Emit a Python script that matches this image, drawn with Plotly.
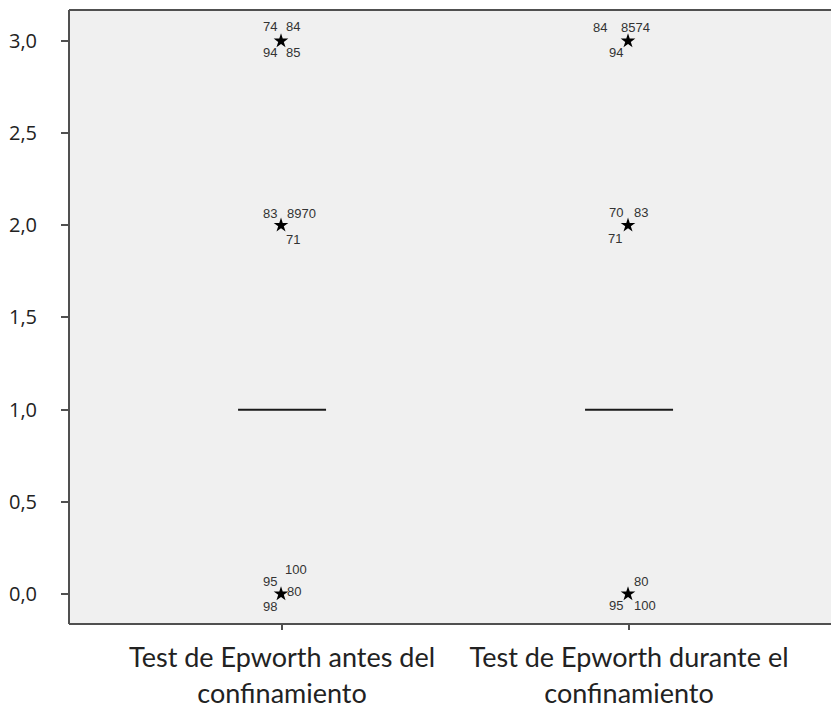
import plotly.graph_objects as go

categories = ["Test de Epworth antes del<br>confinamiento", "Test de Epworth durante el<br>confinamiento"]
cat_pos = [0, 1]
medians = [1.0, 1.0]
q1 = [1.0, 1.0]
q3 = [1.0, 1.0]
lower = [1.0, 1.0]
upper = [1.0, 1.0]

out_values_g1 = [3, 2, 0]
out_labels_g1 = [["74", "84", "94", "85"], ["83", "8970", "71"], ["100", "95", "80", "98"]]
out_values_g2 = [3, 2, 0]
out_labels_g2 = [["84", "8574", "94"], ["70", "83", "71"], ["80", "95", "100"]]

y_ticks = [0, 0.5, 1, 1.5, 2, 2.5, 3]
y_tick_text = ["0,0", "0,5", "1,0", "1,5", "2,0", "2,5", "3,0"]

offs_g1 = [[(-11.5, -14), (11.5, -14), (-11.5, 11.5), (11.5, 11.5)],
           [(-11.5, -12), (20.5, -12), (11.5, 14)],
           [(14.5, -24), (-11.5, -12), (12.5, -2.5), (-11.5, 13)]]
offs_g2 = [[(-28.5, -13), (7.5, -13), (-12.5, 12)],
           [(-12.5, -13), (12.5, -13), (-13, 13)],
           [(12.5, -12.5), (-12.5, 11.5), (16.5, 11.5)]]

fig = go.Figure()
fig.add_trace(go.Box(
    x=cat_pos, q1=q1, median=medians, q3=q3, lowerfence=lower, upperfence=upper,
    boxpoints=False, width=0.2536, whiskerwidth=0,
    line=dict(color="#1a1a1a", width=2), fillcolor="rgba(0,0,0,0)",
    hoverinfo="skip", showlegend=False))

annotations = []
for gi, (vals, labs, offs) in enumerate([(out_values_g1, out_labels_g1, offs_g1),
                                         (out_values_g2, out_labels_g2, offs_g2)]):
    xs = [cat_pos[gi] - 0.003] * len(vals)
    fig.add_trace(go.Scatter(x=xs, y=vals, mode="markers",
                             marker=dict(symbol="star", size=11, color="black"),
                             hoverinfo="skip", showlegend=False))
    for v, lab_list, off_list in zip(vals, labs, offs):
        for lab, (dx, dy) in zip(lab_list, off_list):
            annotations.append(dict(x=cat_pos[gi] - 0.003, y=v, xref="x", yref="y",
                                    text=lab, showarrow=False, xshift=dx, yshift=-dy,
                                    font=dict(family="Arial, Liberation Sans", size=13, color="#333333")))

line_style = dict(color="#505050", width=2)
shapes = [
    dict(type="rect", xref="paper", yref="paper", x0=0.994, x1=1.0, y0=0.003, y1=0.997,
         fillcolor="#f0f0f0", line=dict(width=0), layer="above"),
    dict(type="line", xref="paper", yref="paper", x0=0, x1=0, y0=0, y1=1, line=line_style),
    dict(type="line", xref="paper", yref="paper", x0=0, x1=1, y0=1, y1=1, line=line_style),
    dict(type="line", xref="paper", yref="paper", x0=0, x1=1, y0=0, y1=0, line=line_style),
]

fig.update_layout(
    width=831, height=707,
    margin=dict(l=69, r=0, t=10, b=83, pad=0),
    paper_bgcolor="white", plot_bgcolor="#f0f0f0",
    annotations=annotations,
    shapes=shapes,
    hovermode=False,
    dragmode=False,
    xaxis=dict(range=[-0.614, 1.582], tickvals=cat_pos, ticktext=categories,
               showgrid=False, zeroline=False, showline=False, automargin=False,
               ticks="outside", ticklen=5, tickwidth=1.5,
               tickcolor="#505050", ticklabelstandoff=5,
               tickfont=dict(family="Lato, Open Sans", size=27, color="#222222")),
    yaxis=dict(range=[-0.163, 3.168], tickvals=y_ticks, ticktext=y_tick_text,
               showgrid=False, zeroline=False, showline=False, automargin=False,
               ticks="outside", ticklen=7, tickwidth=1.5,
               tickcolor="#505050", ticklabelstandoff=20,
               tickfont=dict(family="Open Sans", size=20, color="#222222")),
)

fig.write_html("out.html", config={"displayModeBar": False})
